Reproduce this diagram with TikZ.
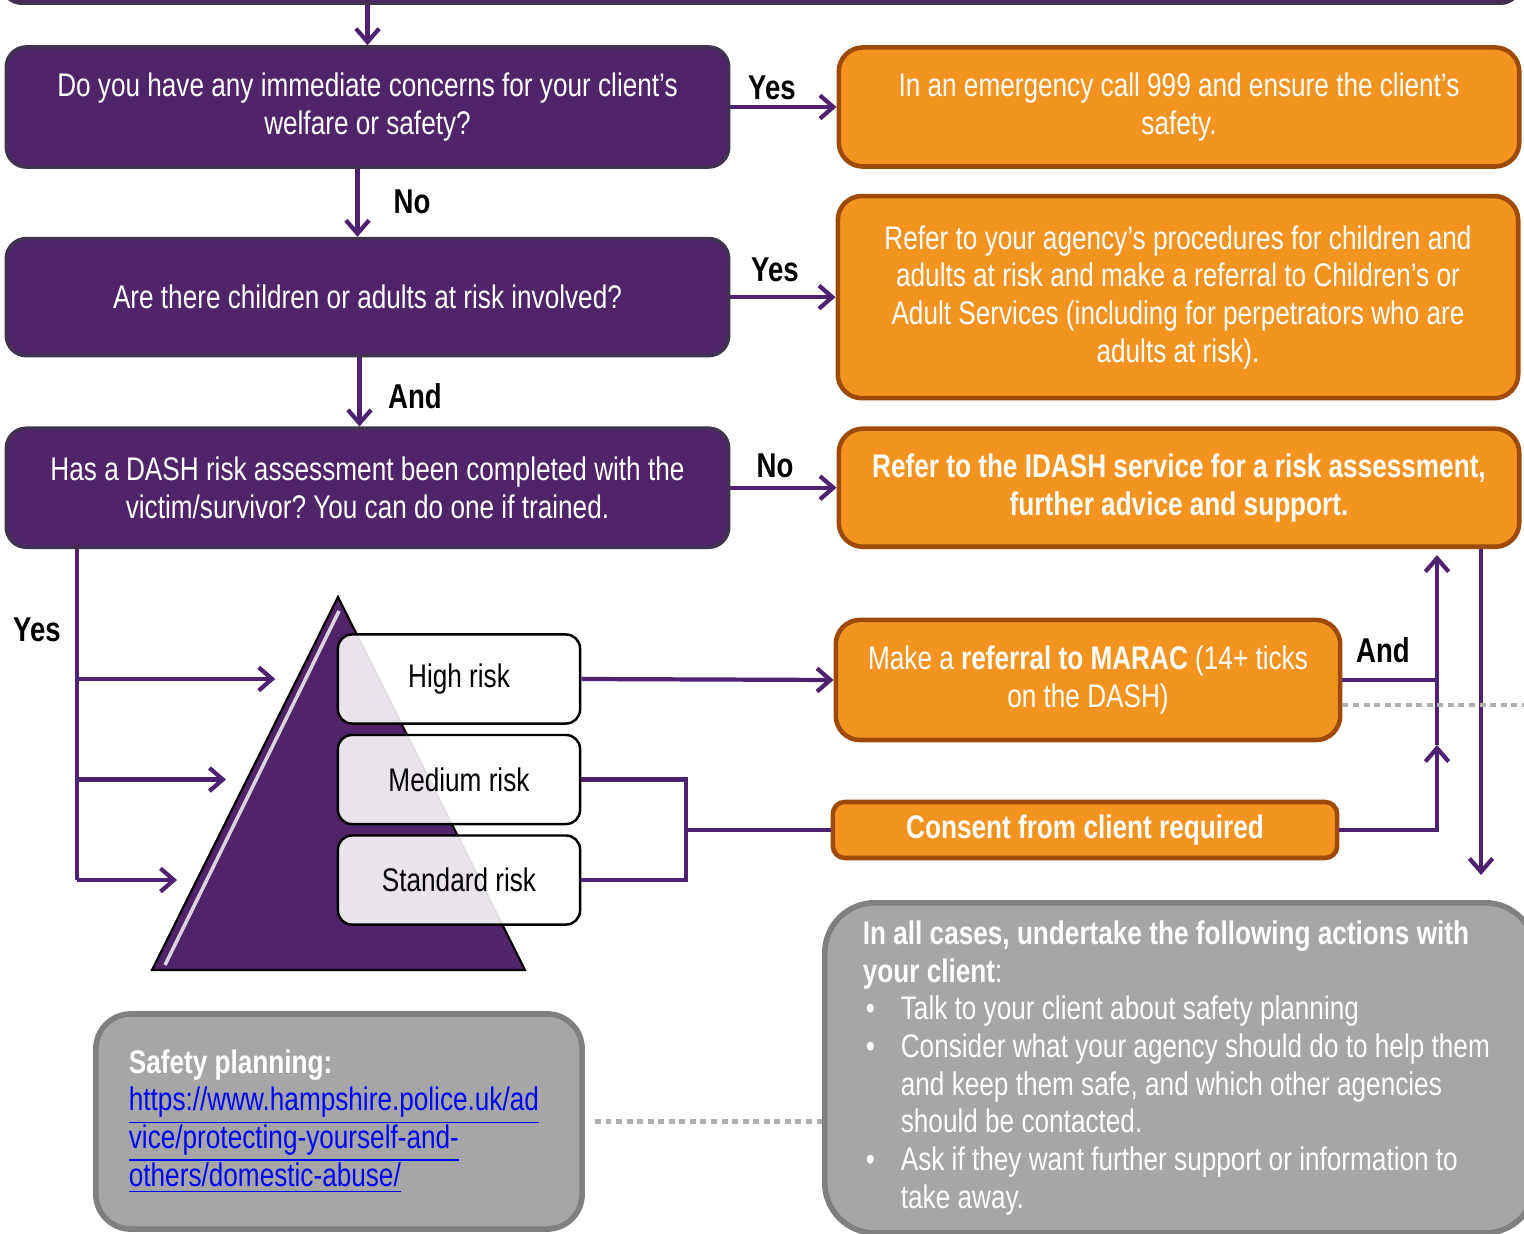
\documentclass[tikz,border=0pt]{standalone}
\usepackage{fontspec}
\setmainfont{Liberation Sans}[FakeStretch=0.80]
\usetikzlibrary{arrows.meta,positioning,calc}

\definecolor{qfill}{HTML}{512368}
\definecolor{qedge}{HTML}{3F3350}
\definecolor{afill}{HTML}{F39320}
\definecolor{aedge}{HTML}{9E4B09}
\definecolor{ifill}{HTML}{A6A6A6}
\definecolor{iedge}{HTML}{808080}
\definecolor{cpurple}{HTML}{4F2270}
\definecolor{dgray}{HTML}{B0B0B0}
\definecolor{linkblue}{HTML}{0000FF}

\newcommand{\casebullet}{\makebox[0.38cm][l]{\hspace{0.03cm}\textbullet}}
\frenchspacing

\begin{document}
\begin{tikzpicture}[
  x=0.01cm, y=-0.01cm,
  font=\fontsize{9.3}{10.7}\selectfont,
  >={Straight Barb[length=3.8pt,width=6.6pt]},
  % Styles
  question/.style={draw=qedge,fill=qfill,line width=1pt,rounded corners=0.2cm,text=white,align=center,minimum width=7.22cm},
  action/.style={draw=aedge,fill=afill,line width=1.3pt,rounded corners=0.24cm,text=white,align=center,minimum width=6.8cm},
  riskbox/.style={draw=black,fill=white,fill opacity=0.88,text opacity=1,line width=0.7pt,rounded corners=0.14cm,minimum width=2.42cm,minimum height=0.89cm},
  infobox/.style={draw=iedge,fill=ifill,line width=1.6pt,text=white,align=flush left},
  answer/.style={font=\fontsize{9.8}{12}\selectfont\bfseries},
  link/.style={draw=cpurple,line width=1.2pt},
  flow/.style={link,->},
  dots/.style={draw=dgray,line width=1.3pt,dash pattern=on 1.7pt off 1.3pt},
  ]
\useasboundingbox (0,0) rectangle (1524,1234);

%--- Question column ------------------------------------------------
% Step above, cut off by the page
\node[question, minimum width=15.18cm, minimum height=1.2cm, anchor=south west] (prev) at (0,5) {};

\node[question, minimum height=1.2cm] (q1) at (367.5,107)
  {Do you have any immediate concerns for your client’s\\welfare or safety?};
\node[question, minimum height=1.17cm, below=0.68cm of q1] (q2)
  {Are there children or adults at risk involved?};
\node[question, minimum height=1.19cm, below=0.69cm of q2] (q3)
  {Has a DASH risk assessment been completed with the\\victim/survivor? You can do one if trained.};

%--- Action column --------------------------------------------------
\node[action, minimum height=1.19cm, right=1.06cm of q1] (o1)
  {In an emergency call 999 and ensure the client’s\\safety.};
\node[action, minimum height=2.02cm, right=1.05cm of q2] (o2)
  {Refer to your agency’s procedures for children and\\adults at risk and make a referral to Children’s or\\Adult Services (including for perpetrators who are\\adults at risk).};
\node[action, minimum height=1.18cm, right=1.06cm of q3, font=\fontsize{9.3}{10.7}\selectfont\bfseries] (o3)
  {Refer to the IDASH service for a risk assessment,\\further advice and support.};

\node[action, minimum width=5.04cm, minimum height=1.2cm] (marac) at (1088,680)
  {Make a \textbf{referral to MARAC} (14+ ticks\\on the DASH)};
\node[action, minimum width=5.04cm, minimum height=0.56cm, rounded corners=0.12cm,
  font=\fontsize{9.3}{10.7}\selectfont\bfseries] (consent) at (1085,830)
  {Consent from client required};

%--- Risk pyramid ---------------------------------------------------
\coordinate (apex) at (338,597);
\coordinate (baseL) at (152,970);
\coordinate (baseR) at (525,970);
\fill[qfill, draw=black, line width=0.6pt] (apex) -- (baseR) -- (baseL) -- cycle;
\draw[white!80!qfill, line width=1pt] ($(apex)+(1,14)$) -- ($(baseL)+(13,-5)$);

\node[riskbox] (high) at (459,679) {High risk};
\node[riskbox, below=0.09cm of high] (medium) {Medium risk};
\node[riskbox, below=0.09cm of medium] (standard) {Standard risk};

%--- Information boxes ----------------------------------------------
\node[infobox, rounded corners=0.35cm, text width=4.2cm, inner xsep=0.33cm, minimum height=2.15cm] (safety) at (339,1121.5)
  {\textbf{Safety planning:}\\
   \textcolor{linkblue}{\underline{https://www.hampshire.police.uk/ad}}\\
   \textcolor{linkblue}{\underline{vice/protecting-yourself-and-}}\\
   \textcolor{linkblue}{\underline{others/domestic-abuse/}}};

\node[infobox, rounded corners=0.5cm, text width=6.34cm, inner xsep=0.38cm, minimum height=3.3cm, anchor=north west] (cases) at (822,900)
  {\textbf{In all cases, undertake the following actions with}\\
   \textbf{your client}:\\
   \casebullet Talk to your client about safety planning\\
   \casebullet Consider what your agency should do to help them\\
   \hspace*{0.38cm}and keep them safe, and which other agencies\\
   \hspace*{0.38cm}should be contacted.\\
   \casebullet Ask if they want further support or information to\\
   \hspace*{0.38cm}take away.};

%--- Connectors -----------------------------------------------------
\draw[flow] (prev.south -| q1.north) -- (q1.north);
\draw[flow] (q1.east) -- (o1.west);
\draw[flow] ([xshift=-0.1cm]q1.south) -- ([xshift=-0.1cm]q2.north);
\draw[flow] (q2.east) -- (o2.west);
\draw[flow] ([xshift=-0.08cm]q2.south) -- ([xshift=-0.08cm]q3.north);
\draw[flow] (q3.east) -- (o3.west);

% Yes branch into the pyramid
\coordinate (yesx) at (77,0);
\coordinate (tipH) at ($(apex)!0.219!(baseL)+(-22,0)$);
\coordinate (tipM) at ($(apex)!0.484!(baseL)+(-22,0)$);
\coordinate (tipS) at ($(apex)!0.747!(baseL)+(-22,0)$);
\draw[link] (q3.south -| yesx) -- (yesx |- standard);
\draw[flow] (yesx |- high) -- (tipH |- high);
\draw[flow] (yesx |- medium) -- (tipM |- medium);
\draw[flow] (yesx |- standard) -- (tipS |- standard);

% Risk levels to actions
\draw[flow] (high.east) -- (marac.west);
\coordinate (mbus) at (686,830);
\draw[link] (medium.east) -| (mbus) |- (standard.east);
\draw[link] (mbus) -- (consent.west);

% Back up to IDASH and down to all cases
\coordinate (andx) at (1437,745);
\draw[flow] (consent.east) -| (andx);
\draw[flow] (andx) -- ([yshift=-0.06cm]o3.south -| andx);
\draw[link] (marac.east) -- (marac.east -| andx);
\coordinate (downx) at (1481,875);
\draw[flow] (o3.south -| downx) -- (downx);

% Dotted links
\draw[dots] ([yshift=-0.25cm]marac.east) -- ++(200,0);
\draw[dots] ([xshift=0.1cm]safety.east) -- (safety.east -| cases.west);
\draw[dots] ([xshift=1pt]o2.east) -- ++(20,0);
\draw[dots] ([xshift=1pt,yshift=0.04cm]o3.east) -- ++(20,0);

%--- Answer labels --------------------------------------------------
\node[answer] (yes1) at (772,88) {Yes};
\node[answer] (no1) at (412,202) {No};
\node[answer] (yes2) at (775,270) {Yes};
\node[answer] (and1) at (415,396) {And};
\node[answer] (no2) at (775,466) {No};
\node[answer] (yes3) at (37,630) {Yes};
\node[answer] (and2) at (1383,650) {And};

\end{tikzpicture}
\end{document}
